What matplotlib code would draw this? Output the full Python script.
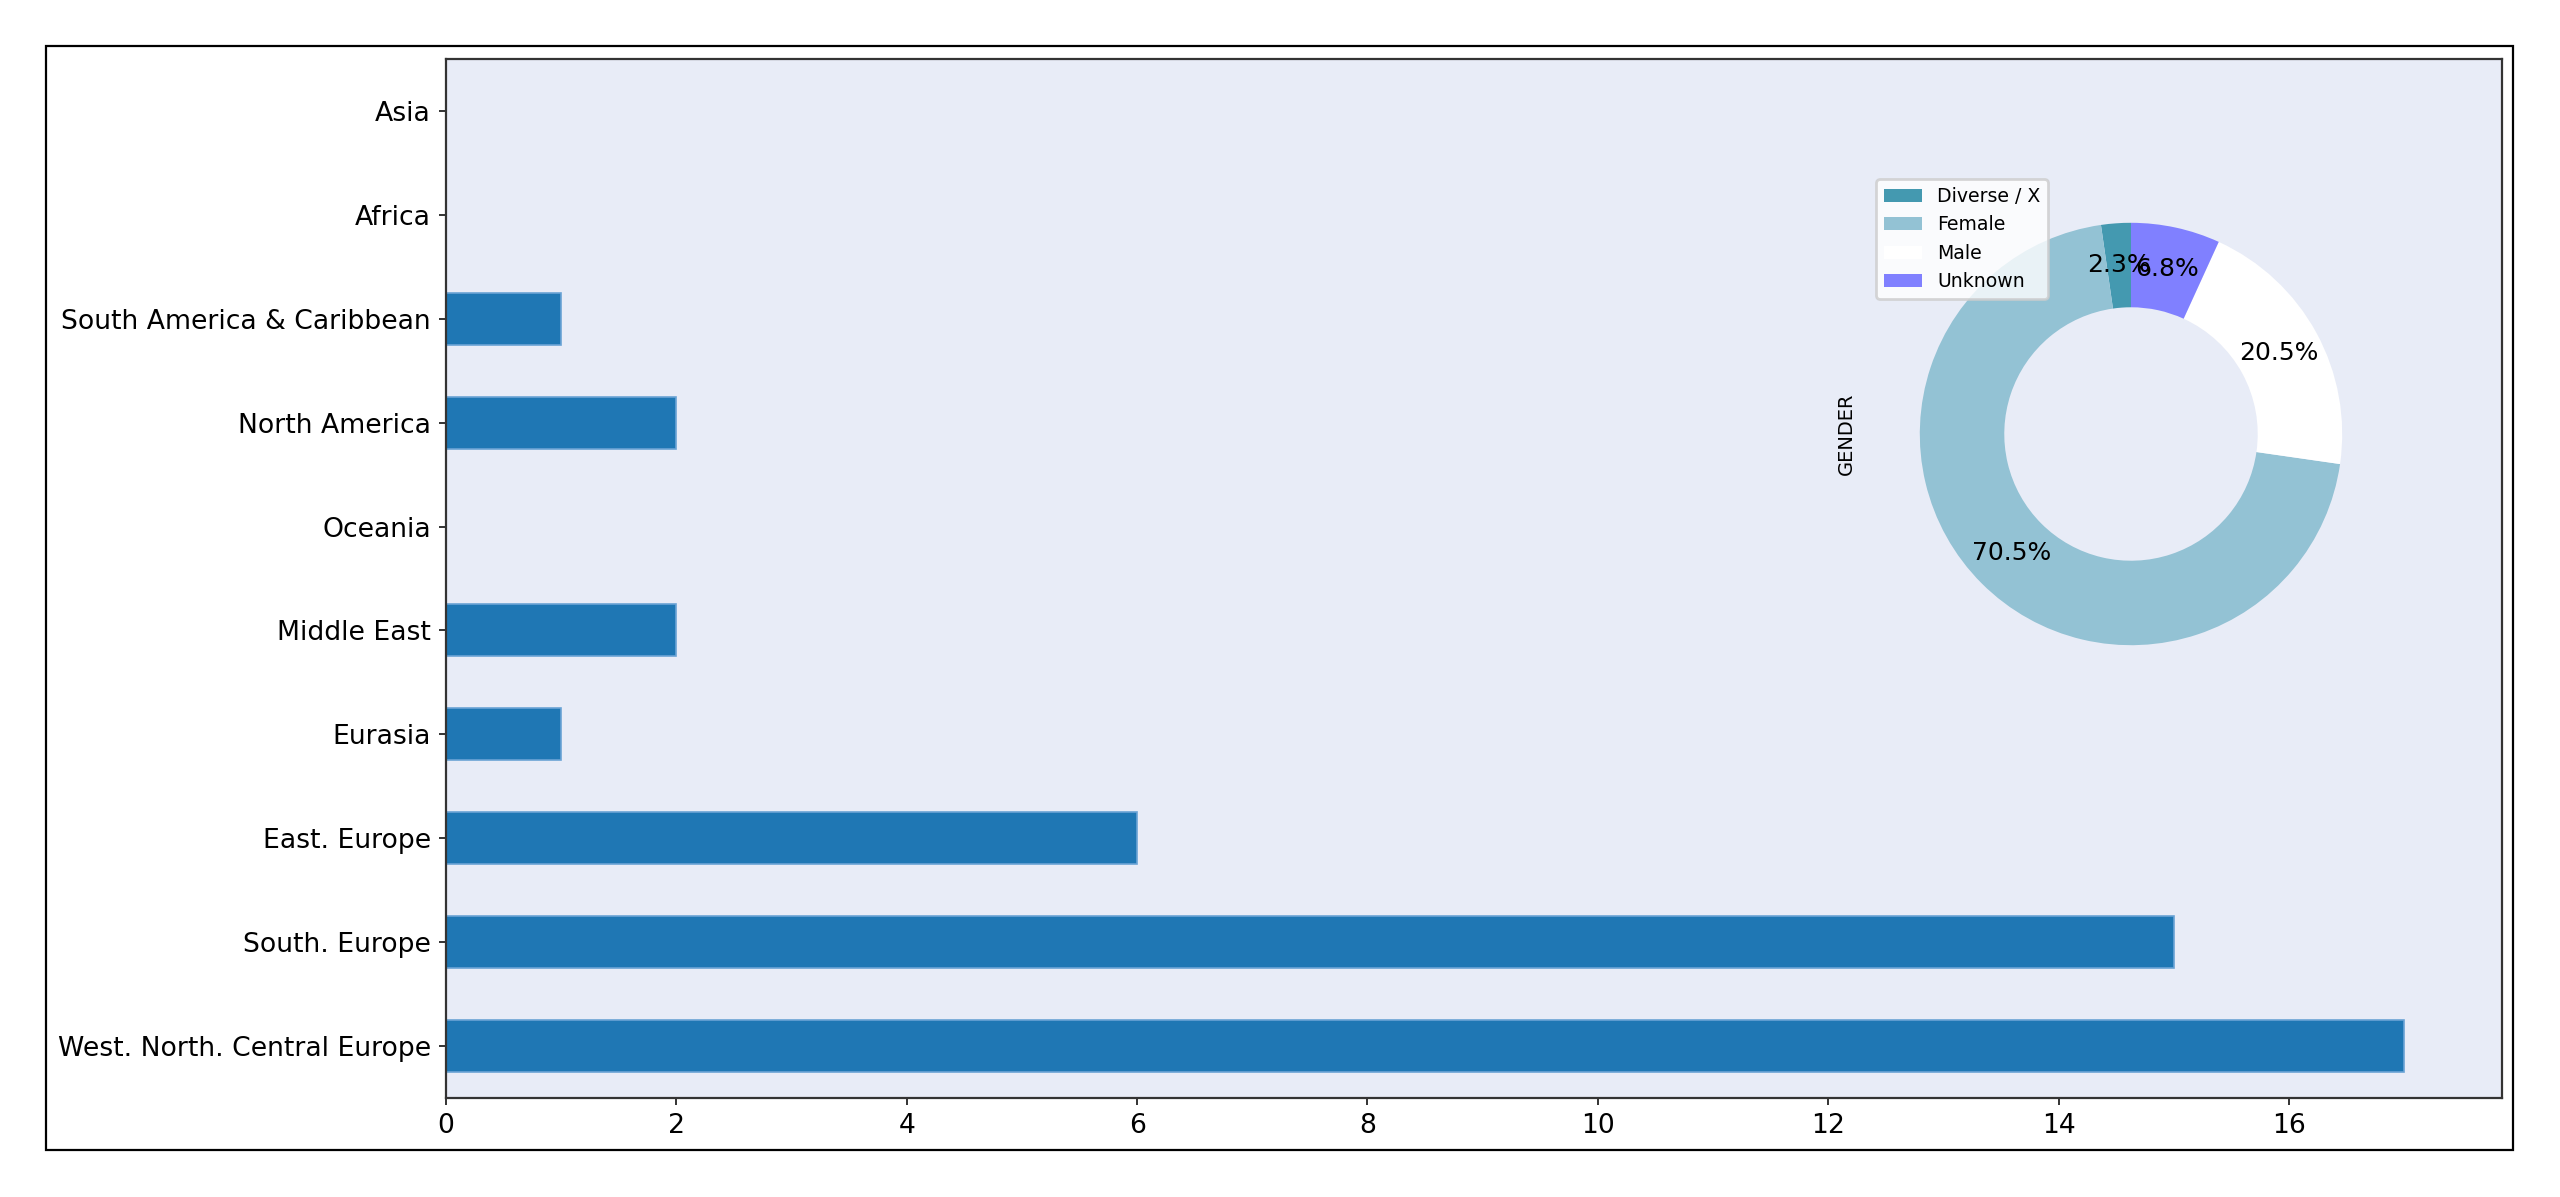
import matplotlib
matplotlib.use("Agg")
import matplotlib.pyplot as plt

regions = ["West. North. Central Europe", "South. Europe", "East. Europe", "Eurasia",
           "Middle East", "Oceania", "North America", "South America & Caribbean",
           "Africa", "Asia"]
counts = [17, 15, 6, 1, 2, 0, 2, 1, 0, 0]

genders = ["Diverse / X", "Female", "Male", "Unknown"]
gender_counts = [1, 31, 9, 3]
gender_colors = ["#4499b0", "#93c2d4", "#ffffff", "#8080ff"]

W, H, DPI = 2560, 1197, 200
fig = plt.figure(figsize=(W / DPI, H / DPI), dpi=DPI, facecolor="white")

frame = plt.Rectangle((46 / W, 1 - 1150 / H), (2513 - 46) / W, (1150 - 46) / H,
                      transform=fig.transFigure, fill=False, edgecolor="black",
                      linewidth=0.8, zorder=0)
fig.patches.append(frame)

ax = fig.add_axes([446 / W, 1 - 1098 / H, (2502 - 446) / W, (1098 - 59) / H])
ax.set_facecolor("#e8ecf7")
ypos = list(range(len(regions)))
ax.barh(ypos, counts, height=0.5, color="#1f77b4", edgecolor="#6aa3d5", linewidth=0.6)
ax.set_yticks(ypos)
ax.set_yticklabels(regions)
ax.set_ylim(-0.5, len(regions) - 0.5)
ax.set_xlim(0, max(counts) * 1.05)
ax.set_xticks(range(0, 18, 2))
ax.tick_params(labelsize=9.6, color="#333333", length=2.5, width=0.7, pad=3.0)
for s in ax.spines.values():
    s.set_color("#333333")
    s.set_linewidth(0.8)

pax = fig.add_axes([1867 / W, 1 - 698 / H, 528 / W, 528 / H])
pax.patch.set_alpha(0)
wedges, texts, autotexts = pax.pie(gender_counts, colors=gender_colors, startangle=90,
                                   autopct="%1.1f%%", pctdistance=0.8,
                                   wedgeprops=dict(width=0.4),
                                   textprops=dict(fontsize=9.0))
pax.set_ylabel("GENDER", fontsize=7)
pax.legend(wedges, genders, loc="upper left", fontsize=6.8, framealpha=0.8)

fig.savefig("out.png", dpi=DPI)
